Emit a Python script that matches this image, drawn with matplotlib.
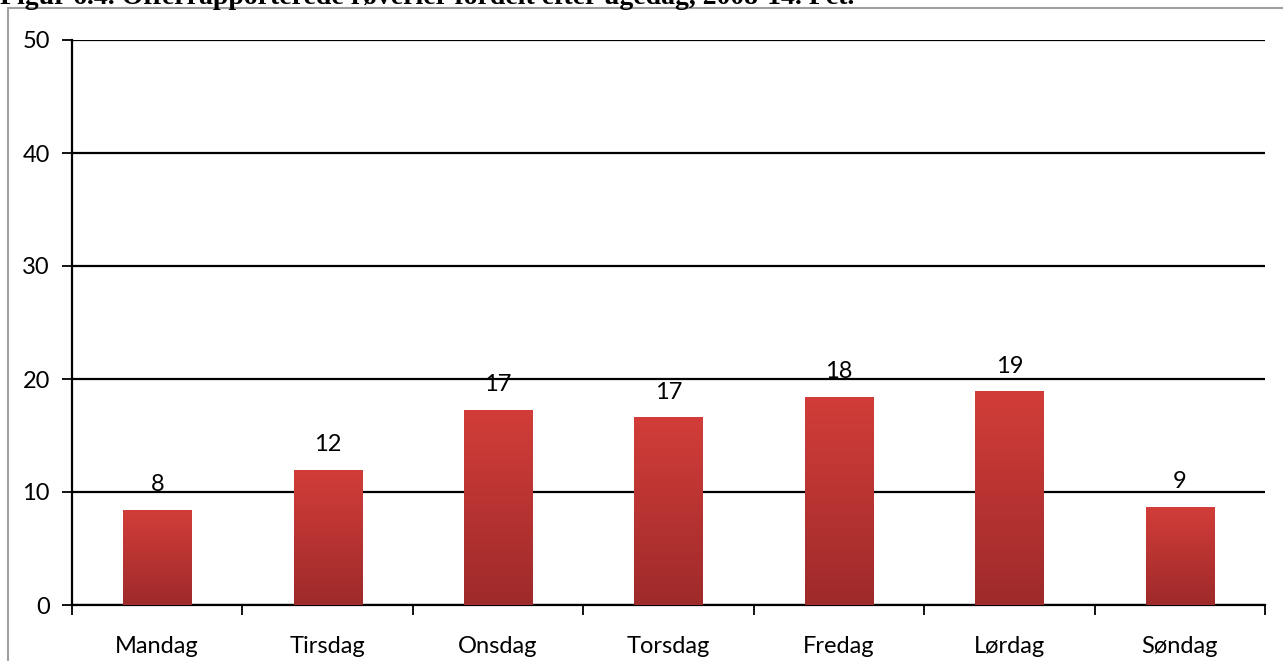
import matplotlib
matplotlib.use("Agg")
import matplotlib.pyplot as plt
import numpy as np
from matplotlib.patches import Rectangle
from matplotlib.colors import LinearSegmentedColormap

days = ["Mandag", "Tirsdag", "Onsdag", "Torsdag", "Fredag", "Lørdag", "Søndag"]
values = [8.4, 11.95, 17.3, 16.6, 18.4, 18.9, 8.7]
labels = ["8", "12", "17", "17", "18", "19", "9"]
yticks = [0, 10, 20, 30, 40, 50]
title = "Figur 6.4. Offerrapporterede røverier fordelt efter ugedag, 2008-14. Pct."

W, H = 1283, 661
fig = plt.figure(figsize=(W / 100, H / 100), dpi=100)
fig.patch.set_facecolor("white")

# outer chart border (gray)
fig.add_artist(Rectangle((8 / W, -0.1), 2.0, (H - 8) / H + 0.1, transform=fig.transFigure,
                         fill=False, edgecolor="#a0a0a0", linewidth=1.5))

fig.text(0.0, 1 + 3 / H, title, ha="left", va="center", fontsize=20, fontweight="bold",
         family="Liberation Serif")

ax = fig.add_axes([72 / W, (H - 605) / H, (1265 - 72) / W, (605 - 40) / H])
font = "Lato"
x = np.arange(len(days))
bars = ax.bar(x, values, width=0.4, color="#c23733", zorder=3)

grad = np.linspace(0, 1, 256).reshape(-1, 1)
cmap = LinearSegmentedColormap.from_list("g", ["#9e2a2a", "#d23d39"])
for b in bars:
    x0, y0 = b.get_x(), b.get_y()
    im = ax.imshow(grad, cmap=cmap, origin="lower", aspect="auto",
                   extent=[x0, x0 + b.get_width(), y0, y0 + b.get_height()], zorder=4)
    im.set_clip_path(b)

for xi, v, lab in zip(x, values, labels):
    ax.text(xi, v + 1.3, lab, ha="center", va="bottom", fontsize=17, family=font)

ax.set_xlim(-0.5, len(days) - 0.5)
ax.set_ylim(0, 50)
ax.set_yticks(yticks)
ax.set_yticklabels([str(t) for t in yticks], fontsize=17, family=font)
ax.set_xticks(x)
ax.set_xticklabels(days, fontsize=17, family=font)
ax.set_xticks(np.arange(-0.5, len(days)), minor=True)
ax.tick_params(axis="x", which="major", length=0, pad=22)
ax.tick_params(axis="x", which="minor", length=7, width=1.3, direction="out")
ax.tick_params(axis="y", length=7, width=1.3, pad=9)
ax.yaxis.grid(True, color="black", linewidth=1.6, zorder=0)
ax.set_axisbelow(True)
for s in ["top", "right"]:
    ax.spines[s].set_visible(False)
for s in ["left", "bottom"]:
    ax.spines[s].set_linewidth(1.6)

fig.savefig("out.png", dpi=100)
